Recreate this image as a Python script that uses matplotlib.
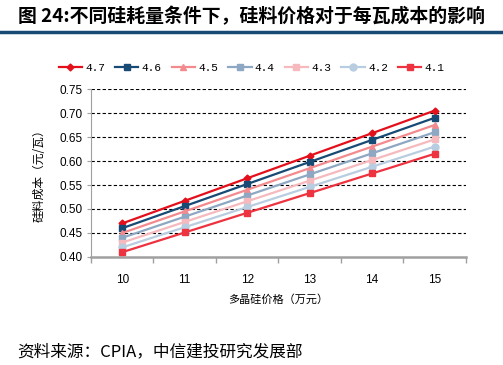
import matplotlib.pyplot as plt
from matplotlib.ticker import FixedLocator, NullFormatter

plt.rcParams['font.family'] = ['Liberation Sans', 'Noto Sans CJK SC', 'DejaVu Sans']

# polysilicon price (10k yuan / t)
prices = ["10", "11", "12", "13", "14", "15"]

# silicon cost (yuan / W) for each consumption level (g/W)
cost_47 = [0.470, 0.517, 0.564, 0.611, 0.658, 0.705]
cost_46 = [0.460, 0.506, 0.552, 0.598, 0.644, 0.690]
cost_45 = [0.450, 0.495, 0.540, 0.585, 0.630, 0.675]
cost_44 = [0.440, 0.484, 0.528, 0.572, 0.616, 0.660]
cost_43 = [0.430, 0.473, 0.516, 0.559, 0.602, 0.645]
cost_42 = [0.420, 0.462, 0.504, 0.546, 0.588, 0.630]
cost_41 = [0.410, 0.451, 0.492, 0.533, 0.574, 0.615]

series = [
    ("4.7", cost_47, "#E3101C", "D", 3.5),
    ("4.6", cost_46, "#174A75", "s", 5),
    ("4.5", cost_45, "#F28A8E", "^", 5),
    ("4.4", cost_44, "#8EA7C2", "s", 5),
    ("4.3", cost_43, "#F6B9BD", "s", 5),
    ("4.2", cost_42, "#B9CDE0", "o", 5),
    ("4.1", cost_41, "#EE3340", "s", 5),
]

fig = plt.figure(figsize=(5.03, 3.65), dpi=100)
ax = fig.add_axes([0.181, 0.296, 0.745, 0.460])

x = list(range(len(prices)))
handles = []
for name, vals, color, marker, ms in series:
    h, = ax.plot(x, vals, color=color, lw=1.6, marker=marker, markersize=ms,
                 markeredgecolor=color, label=name, zorder=3)
    handles.append(h)

ax.set_xlim(-0.5, len(prices) - 0.5)
ax.set_ylim(0.40, 0.75)
ax.set_yticks([0.40 + 0.05 * i for i in range(8)])
ax.set_yticklabels([f"{0.40 + 0.05 * i:.2f}" for i in range(8)], fontsize=8.5)
ax.set_xticks(x)
ax.set_xticklabels(prices, fontsize=8.5)
ax.xaxis.set_minor_locator(FixedLocator([i - 0.5 for i in range(len(prices) + 1)]))
ax.xaxis.set_minor_formatter(NullFormatter())
ax.tick_params(axis='x', which='major', length=0, pad=12)
ax.tick_params(axis='x', which='minor', length=4, color='#A0A0A0', width=1)
ax.tick_params(axis='y', length=3, color='#A0A0A0', pad=3)

for v in [0.45, 0.50, 0.55, 0.60, 0.65, 0.70, 0.75]:
    ax.axhline(v, color='black', lw=0.8, ls=(0, (3, 2)), zorder=1)

for s in ['top', 'right']:
    ax.spines[s].set_visible(False)
ax.spines['left'].set_color('#A0A0A0')
ax.spines['bottom'].set_color('#A0A0A0')
ax.spines['bottom'].set_linewidth(1.8)

ax.set_ylabel("硅料成本（元/瓦）", fontsize=8.5, family=['Noto Sans CJK SC'], labelpad=10)
ax.set_xlabel("多晶硅价格（万元）", fontsize=8, family=['Noto Sans CJK SC'], labelpad=6)

fig.legend(handles=handles, loc='center', bbox_to_anchor=(0.5, 0.813), ncol=7,
           frameon=False, handlelength=2.1, columnspacing=0.9,
           handletextpad=0.3, prop={'family': 'Liberation Mono', 'size': 8})

fig.text(0.036, 0.955, "图 24:不同硅耗量条件下，硅料价格对于每瓦成本的影响",
         fontsize=13.6, fontweight='bold', family=['Noto Sans CJK SC'], va='center')
fig.add_artist(plt.Line2D([0, 1], [0.912, 0.912], color='#174A75', lw=2.5))

fig.text(0.034, 0.035, "资料来源：CPIA，中信建投研究发展部", fontsize=12,
         style='italic', family=['Noto Sans CJK SC'], va='center')

fig.savefig("out.png", dpi=100)
